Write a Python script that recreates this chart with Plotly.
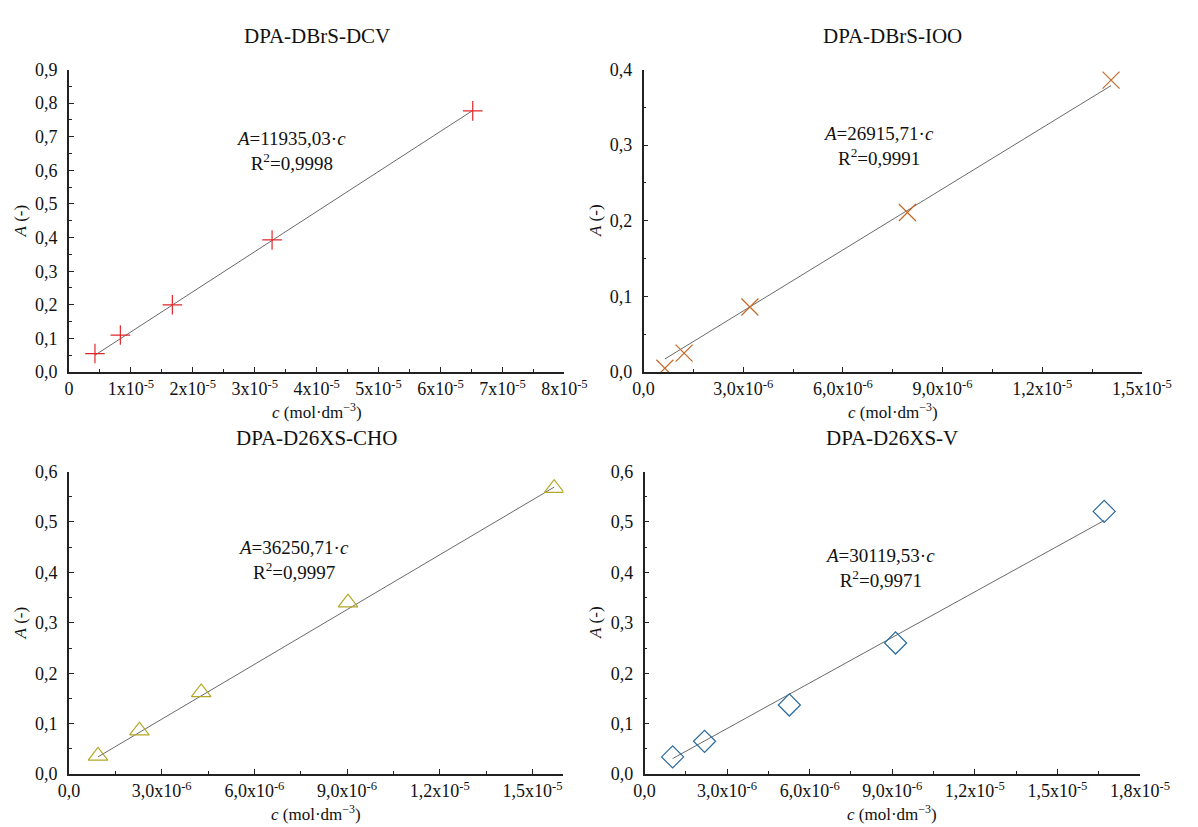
import plotly.graph_objects as go

W, H = 1198, 827

# ---------------- data ----------------
titles = ["DPA-DBrS-DCV", "DPA-DBrS-IOO", "DPA-D26XS-CHO", "DPA-D26XS-V"]

c_dcv = [0.42e-5, 0.83e-5, 1.67e-5, 3.28e-5, 6.52e-5]
a_dcv = [0.055, 0.110, 0.200, 0.393, 0.777]
k_dcv = 11935.03

c_ioo = [0.64e-6, 1.22e-6, 3.20e-6, 7.94e-6, 14.07e-6]
a_ioo = [0.005, 0.025, 0.086, 0.211, 0.386]
k_ioo = 26915.71

c_cho = [0.94e-6, 2.28e-6, 4.28e-6, 9.03e-6, 15.70e-6]
a_cho = [0.036, 0.086, 0.162, 0.340, 0.567]
k_cho = 36250.71

c_v = [1.02e-6, 2.18e-6, 5.26e-6, 9.12e-6, 16.70e-6]
a_v = [0.034, 0.065, 0.137, 0.260, 0.521]
k_v = 30119.53

equations = ["<i>A</i>=11935,03·<i>c</i>", "<i>A</i>=26915,71·<i>c</i>",
             "<i>A</i>=36250,71·<i>c</i>", "<i>A</i>=30119,53·<i>c</i>"]
r2_texts = ["R<sup>2</sup>=0,9998", "R<sup>2</sup>=0,9991",
            "R<sup>2</sup>=0,9997", "R<sup>2</sup>=0,9971"]

# x tick labels
xt1_vals = [0, 1e-5, 2e-5, 3e-5, 4e-5, 5e-5, 6e-5, 7e-5, 8e-5]
xt1_text = ["0"] + [f"{i}x10<sup>-5</sup>" for i in range(1, 9)]
xt2_vals = [0, 3e-6, 6e-6, 9e-6, 1.2e-5, 1.5e-5]
xt2_text = ["0,0", "3,0x10<sup>-6</sup>", "6,0x10<sup>-6</sup>", "9,0x10<sup>-6</sup>",
            "1,2x10<sup>-5</sup>", "1,5x10<sup>-5</sup>"]
xt4_vals = [0, 3e-6, 6e-6, 9e-6, 1.2e-5, 1.5e-5, 1.8e-5]
xt4_text = xt2_text + ["1,8x10<sup>-5</sup>"]

yt9_vals = [i / 10 for i in range(10)]
yt9_text = [f"0,{i}" for i in range(10)]
yt4_vals = [i / 10 for i in range(5)]
yt4_text = [f"0,{i}" for i in range(5)]
yt6_vals = [i / 10 for i in range(7)]
yt6_text = [f"0,{i}" for i in range(7)]

# ---------------- layout geometry (pixels) ----------------
boxes = [  # x0, x1, ytop, ybottom
    (60, 573, 61, 371),
    (655, 1171, 61, 371),
    (60, 572, 473, 783),
    (656, 1169, 473, 783),
]

panels = [
    dict(c=c_dcv, a=a_dcv, k=k_dcv, sym="cross-thin-open", color="#e0262b", size=14,
         xr=[0, 8e-5], xv=xt1_vals, xtxt=xt1_text, xminor=0.5e-5,
         yr=[0, 0.9], yv=yt9_vals, ytxt=yt9_text, yminor=0.05,
         eq=(290, 132)),
    dict(c=c_ioo, a=a_ioo, k=k_ioo, sym="x-thin-open", color="#c46a28", size=17,
         xr=[0, 1.5e-5], xv=xt2_vals, xtxt=xt2_text, xminor=1.5e-6,
         yr=[0, 0.4], yv=yt4_vals, ytxt=yt4_text, yminor=0.05,
         eq=(898, 126)),
    dict(c=c_cho, a=a_cho, k=k_cho, sym="triangle-up-open", color="#b3a827", size=17,
         xr=[0, 1.6e-5], xv=xt2_vals, xtxt=xt2_text, xminor=1.5e-6,
         yr=[0, 0.6], yv=yt6_vals, ytxt=yt6_text, yminor=0.05,
         eq=(293, 551)),
    dict(c=c_v, a=a_v, k=k_v, sym="diamond-open", color="#2a6b9e", size=17,
         xr=[0, 1.8e-5], xv=xt4_vals, xtxt=xt4_text, xminor=1.5e-6,
         yr=[0, 0.6], yv=yt6_vals, ytxt=yt6_text, yminor=0.05,
         eq=(900, 559)),
]

FONT = "Liberation Serif"
fig = go.Figure()
annotations = []

for i, (p, box, title) in enumerate(zip(panels, boxes, titles)):
    n = i + 1
    xa = "x" if n == 1 else f"x{n}"
    ya = "y" if n == 1 else f"y{n}"
    x0, x1, yt, yb = box
    # fit line
    xs = [min(p["c"]), max(p["c"])]
    ys = [p["k"] * v for v in xs]
    fig.add_trace(go.Scatter(x=xs, y=ys, mode="lines", line=dict(color="#444444", width=0.8),
                             xaxis=xa, yaxis=ya, showlegend=False, hoverinfo="skip"))
    fig.add_trace(go.Scatter(x=p["c"], y=p["a"], mode="markers",
                             marker=dict(symbol=p["sym"], size=p["size"], color=p["color"],
                                         line=dict(color=p["color"], width=1.2)),
                             xaxis=xa, yaxis=ya, showlegend=False))
    axcommon = dict(showgrid=False, zeroline=False, showline=True, linecolor="#222222",
                    linewidth=1.5, ticks="inside", ticklen=5, tickwidth=1.2, tickcolor="#222222",
                    tickfont=dict(family=FONT, size=18, color="#111111"))
    xkey = "xaxis" if n == 1 else f"xaxis{n}"
    ykey = "yaxis" if n == 1 else f"yaxis{n}"
    fig.update_layout(**{
        xkey: dict(domain=[x0 / W, x1 / W], anchor=ya, range=p["xr"], tickmode="array",
                   tickvals=p["xv"], ticktext=p["xtxt"], ticklabelstandoff=0,
                   minor=dict(ticks="inside", ticklen=3, tickwidth=1, tickcolor="#222222",
                              dtick=p["xminor"], tick0=0),
                   **axcommon),
        ykey: dict(domain=[1 - yb / H, 1 - yt / H], anchor=xa, range=p["yr"], tickmode="array",
                   tickvals=p["yv"], ticktext=p["ytxt"], ticklabelstandoff=6,
                   minor=dict(ticks="inside", ticklen=3, tickwidth=1, tickcolor="#222222",
                              dtick=p["yminor"], tick0=0),
                   **axcommon),
    })
    cx = (x0 + x1) / 2
    # title
    annotations.append(dict(text=title, x=cx / W, y=1 - (yt - 34) / H, xref="paper", yref="paper",
                            xanchor="center", yanchor="middle", showarrow=False,
                            font=dict(family=FONT, size=21, color="#111111")))
    # x-axis title
    annotations.append(dict(text="<i>c</i> (mol·dm<sup>−3</sup>)", x=cx / W, y=1 - (yb + 40) / H,
                            xref="paper", yref="paper", xanchor="center", yanchor="middle",
                            showarrow=False, font=dict(family=FONT, size=17, color="#111111")))
    # y-axis title
    annotations.append(dict(text="<i>A</i> (-)", x=(x0 - 50) / W, y=1 - ((yt + yb) / 2) / H,
                            xref="paper", yref="paper", xanchor="center", yanchor="middle",
                            textangle=-90, showarrow=False,
                            font=dict(family=FONT, size=17, color="#111111")))
    # equation
    ex, ey = p["eq"]
    annotations.append(dict(text=equations[i] + "<br>" + r2_texts[i], x=ex / W, y=1 - (ey + 13) / H,
                            xref="paper", yref="paper", xanchor="center", yanchor="middle",
                            align="center", showarrow=False,
                            font=dict(family=FONT, size=19, color="#111111")))

fig.update_layout(width=W, height=H, margin=dict(l=0, r=0, t=0, b=0),
                  paper_bgcolor="white", plot_bgcolor="white", annotations=annotations,
                  showlegend=False)
fig.write_html("out.html")
